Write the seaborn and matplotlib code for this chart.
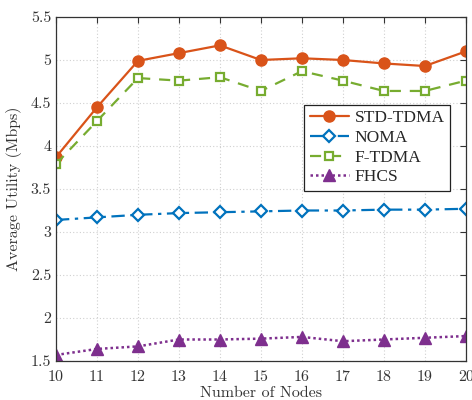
import matplotlib
matplotlib.use("Agg")
import matplotlib.pyplot as plt
import seaborn as sns
import pandas as pd

nodes = [10, 11, 12, 13, 14, 15, 16, 17, 18, 19, 20]
std_tdma = [3.87, 4.45, 4.99, 5.08, 5.17, 5.00, 5.02, 5.00, 4.96, 4.93, 5.10]
noma = [3.14, 3.17, 3.20, 3.22, 3.23, 3.24, 3.25, 3.25, 3.26, 3.26, 3.27]
f_tdma = [3.79, 4.29, 4.79, 4.76, 4.80, 4.64, 4.87, 4.76, 4.64, 4.64, 4.76]
fhcs = [1.57, 1.64, 1.67, 1.75, 1.75, 1.76, 1.78, 1.73, 1.75, 1.77, 1.79]
series_names = ["STD-TDMA", "NOMA", "F-TDMA", "FHCS"]
yticks = [1.5, 2, 2.5, 3, 3.5, 4, 4.5, 5, 5.5]
ytick_labels = ["1.5", "2", "2.5", "3", "3.5", "4", "4.5", "5", "5.5"]

sns.set_style("white")
plt.rcParams["font.family"] = ["cmr10", "DejaVu Serif"]
plt.rcParams["axes.formatter.use_mathtext"] = True

fig = plt.figure(figsize=(4.72, 4.0), dpi=100)
ax = fig.add_axes([0.1186, 0.0975, 0.8684, 0.86])

styles = {
    "STD-TDMA": dict(color="#D95319", marker="o", ls="-", mfc="#D95319", ms=8, lw=1.6),
    "NOMA": dict(color="#0072BD", marker="D", ls=(0, (6, 2.5, 1.5, 2.5)), mfc="white", ms=6.5, lw=1.6, mew=1.6),
    "F-TDMA": dict(color="#77AC30", marker="s", ls=(0, (5, 4)), mfc="white", ms=5.5, lw=1.6, mew=1.6),
    "FHCS": dict(color="#7E2F8E", marker="^", ls=(0, (1, 1.2)), mfc="#7E2F8E", ms=8, lw=1.8),
}
data = [std_tdma, noma, f_tdma, fhcs]
for name, vals in zip(series_names, data):
    st = styles[name]
    sns.lineplot(x=nodes, y=vals, ax=ax, color=st["color"], marker=st["marker"],
                 linestyle=st["ls"], markerfacecolor=st["mfc"], markeredgecolor=st["color"],
                 markersize=st["ms"], linewidth=st["lw"], markeredgewidth=st.get("mew", 1.0),
                 label=name)

ax.set_xlim(10, 20)
ax.set_ylim(1.5, 5.5)
ax.set_xticks(nodes)
ax.set_xticklabels([str(n) for n in nodes])
ax.set_yticks(yticks)
ax.set_yticklabels(ytick_labels)
ax.grid(True, color="#d0d0d0", linestyle=(0, (1, 2)), linewidth=0.8)
ax.tick_params(direction="in", top=True, right=True, labelsize=11.5, length=4, color="#333333", labelcolor="#333333")
ax.tick_params(axis="x", pad=7)
for s in ax.spines.values():
    s.set_color("#333333")
    s.set_linewidth(0.9)
ax.set_xlabel("Number of Nodes", fontsize=11.5, color="#333333", labelpad=1)
ax.set_ylabel("Average Utility (Mbps)", fontsize=11.5, color="#333333", labelpad=6)

leg = ax.legend(loc="upper right", bbox_to_anchor=(0.961, 0.744), borderaxespad=0,
                prop={"family": ["Liberation Serif"], "size": 12.5}, fancybox=False,
                edgecolor="#222222", framealpha=1, handlelength=2.3, labelspacing=0.2,
                borderpad=0.3, handletextpad=0.3)
leg.get_frame().set_linewidth(0.9)

fig.savefig("out.png", dpi=100)
